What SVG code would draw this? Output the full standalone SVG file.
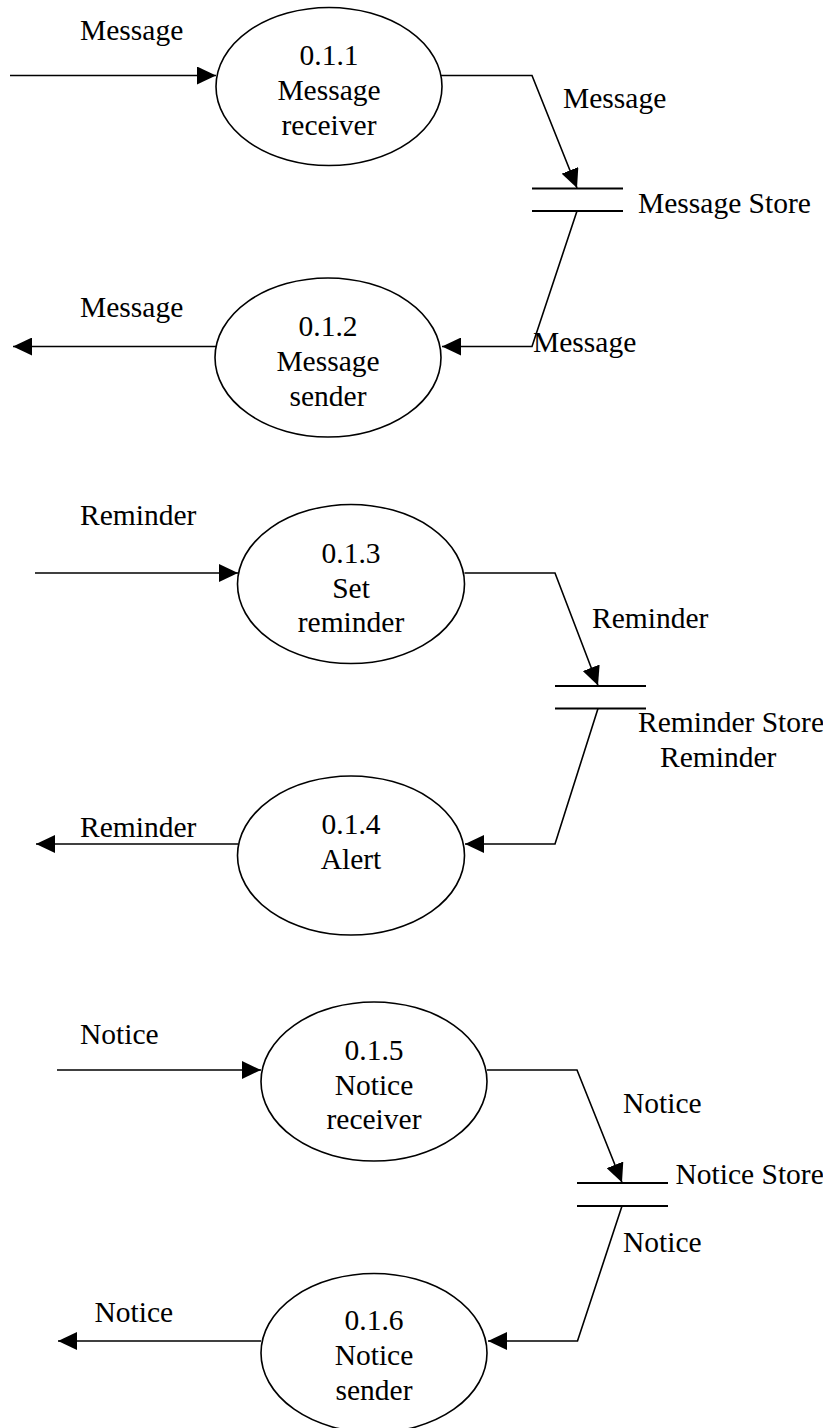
<svg xmlns="http://www.w3.org/2000/svg" width="823" height="1428" viewBox="0 0 823 1428">
<style>
text{font-family:'Liberation Serif','Times New Roman','DejaVu Serif',serif;font-size:29.5px;fill:#000}
.c{text-anchor:middle}
.proc{fill:#fff;stroke:#000;stroke-width:1.6}
.store line{stroke:#000;stroke-width:2}
.flow{fill:none;stroke:#000;stroke-width:1.6;marker-end:url(#ah)}
</style>
<defs>
<marker id="ah" viewBox="0 0 19 18" refX="19" refY="9" markerWidth="19" markerHeight="18" markerUnits="userSpaceOnUse" orient="auto">
<path d="M0,0 L19,9 L0,18 z" fill="#000"/>
</marker>
</defs>
<rect width="823" height="1428" fill="#fff"/>
<g id="connectors">
<path class="flow" d="M10,75.5 H216"/>
<path class="flow" d="M441,75.5 H532 L577,188"/>
<path class="flow" d="M577,211 L532,346.5 H442"/>
<path class="flow" d="M216,346.5 H13"/>
<path class="flow" d="M35,573 H238"/>
<path class="flow" d="M464.5,573 H555 L598,685.5"/>
<path class="flow" d="M598,708.5 L555,844 H465"/>
<path class="flow" d="M238,844 H36"/>
<path class="flow" d="M57,1070 H261"/>
<path class="flow" d="M487,1070 H577 L622,1182.5"/>
<path class="flow" d="M622,1206 L577.5,1341 H488"/>
<path class="flow" d="M261,1341 H58"/>
</g>
<g id="flow-labels" font-family="Liberation Serif, serif">
<text x="80" y="40">Message</text>
<text x="563" y="108">Message</text>
<text x="533" y="352">Message</text>
<text x="80" y="317">Message</text>
<text x="80" y="525">Reminder</text>
<text x="592" y="628">Reminder</text>
<text x="660" y="767">Reminder</text>
<text x="80" y="837">Reminder</text>
<text x="80" y="1044">Notice</text>
<text x="623" y="1113">Notice</text>
<text x="623" y="1252">Notice</text>
<text x="94.5" y="1322">Notice</text>
</g>
<g id="n111">
<ellipse class="proc" cx="329" cy="86.5" rx="113" ry="79"/>
<text class="c" x="329" y="65">0.1.1</text>
<text class="c" x="329" y="100">Message</text>
<text class="c" x="329" y="135">receiver</text>
</g>
<g id="n112">
<ellipse class="proc" cx="328" cy="357.5" rx="113" ry="79.5"/>
<text class="c" x="328" y="336">0.1.2</text>
<text class="c" x="328" y="371">Message</text>
<text class="c" x="328" y="406">sender</text>
</g>
<g id="store1" class="store">
<line x1="532" y1="188.5" x2="623" y2="188.5"/>
<line x1="532" y1="211" x2="623" y2="211"/>
<text x="638" y="213">Message Store</text>
</g>
<g id="n113">
<ellipse class="proc" cx="351" cy="584" rx="113.5" ry="79.5"/>
<text class="c" x="351" y="563">0.1.3</text>
<text class="c" x="351" y="598">Set</text>
<text class="c" x="351" y="632">reminder</text>
</g>
<g id="n114">
<ellipse class="proc" cx="351" cy="855.5" rx="113.5" ry="79.5"/>
<text class="c" x="351" y="833.5">0.1.4</text>
<text class="c" x="351" y="868.5">Alert</text>
</g>
<g id="store2" class="store">
<line x1="555" y1="686" x2="646" y2="686"/>
<line x1="555" y1="708.5" x2="646" y2="708.5"/>
<text x="638" y="732">Reminder Store</text>
</g>
<g id="n115">
<ellipse class="proc" cx="374" cy="1081.5" rx="113" ry="79.5"/>
<text class="c" x="374" y="1060">0.1.5</text>
<text class="c" x="374" y="1095">Notice</text>
<text class="c" x="374" y="1129">receiver</text>
</g>
<g id="n116">
<ellipse class="proc" cx="374" cy="1353" rx="113" ry="79.5"/>
<text class="c" x="374" y="1330">0.1.6</text>
<text class="c" x="374" y="1365">Notice</text>
<text class="c" x="374" y="1400">sender</text>
</g>
<g id="store3" class="store">
<line x1="577" y1="1183" x2="668" y2="1183"/>
<line x1="577" y1="1206" x2="668" y2="1206"/>
<text x="675.5" y="1183.5">Notice Store</text>
</g>
</svg>
